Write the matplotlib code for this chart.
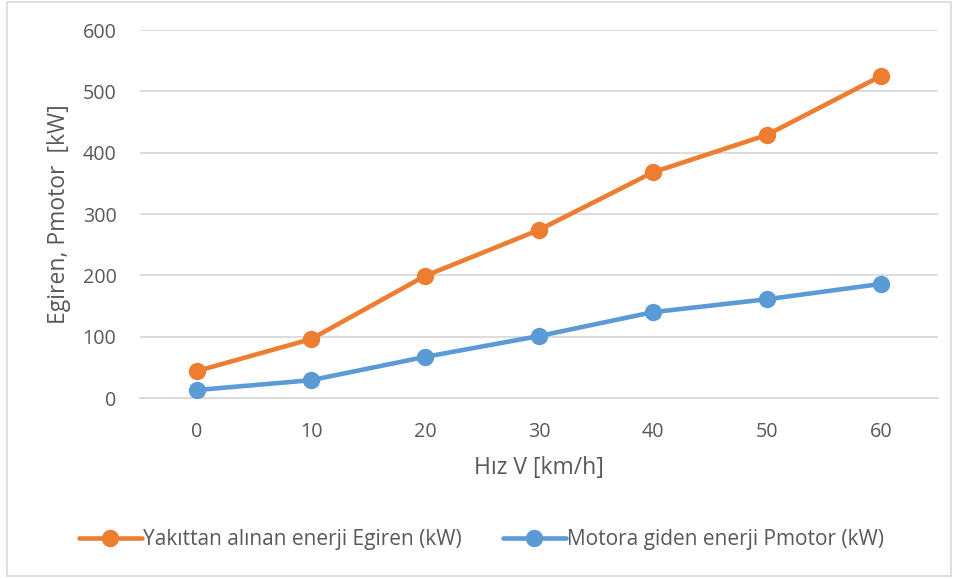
import matplotlib
matplotlib.use('Agg')
import matplotlib.pyplot as plt
from matplotlib.patches import Rectangle

# chart data
hiz = [0, 10, 20, 30, 40, 50, 60]
e_giren = [44, 96, 199, 274, 368, 429, 525]
p_motor = [13, 29, 67, 101, 140, 161, 186]
y_ticks = [0, 100, 200, 300, 400, 500, 600]

ORANGE = '#ED7D31'
BLUE = '#5B9BD5'
TEXT = '#595959'
GRID = '#D9D9D9'

plt.rcParams['font.family'] = ['Open Sans', 'DejaVu Sans']

W, H = 963, 579
fig = plt.figure(figsize=(W / 100, H / 100), dpi=100)

# outer chart frame
fig.patches.append(Rectangle((7 / W, 3 / H), 944 / W, 574 / H, transform=fig.transFigure,
                             fill=False, edgecolor='#D9D9D9', linewidth=1.2))

ax = fig.add_axes([140 / W, 1 - 398 / H, 798 / W, 368 / H])
pos = list(range(len(hiz)))

ax.plot(pos, e_giren, color=ORANGE, lw=3.3, marker='o', ms=11.5,
        label='Yakıttan alınan enerji Egiren (kW)', zorder=3, solid_capstyle='round')
ax.plot(pos, p_motor, color=BLUE, lw=3.3, marker='o', ms=11.5,
        label='Motora giden enerji Pmotor (kW)', zorder=3, solid_capstyle='round')

ax.set_xlim(-0.5, len(hiz) - 0.5)
ax.set_ylim(0, 600)
ax.set_xticks(pos)
ax.set_xticklabels([str(v) for v in hiz])
ax.set_yticks(y_ticks)
ax.grid(axis='y', color=GRID, lw=1.3)
ax.set_axisbelow(True)
for s in ['top', 'right', 'left']:
    ax.spines[s].set_visible(False)
ax.spines['bottom'].set_color(GRID)
ax.spines['bottom'].set_linewidth(1.3)
ax.tick_params(length=0, labelsize=14.2, labelcolor=TEXT)
ax.tick_params(axis='y', pad=17)
ax.tick_params(axis='x', pad=17)

ax.set_xlabel('Hız V [km/h]', fontsize=16.5, color=TEXT, labelpad=10)
ax.set_ylabel('Egiren, Pmotor  [kW]', fontsize=16.5, color=TEXT, labelpad=8)

fig.legend(loc='center', bbox_to_anchor=(0.5, 1 - 540 / H), ncol=2, frameon=False,
           fontsize=15, labelcolor=TEXT, handlelength=3.0, handletextpad=0.05,
           columnspacing=2.0)

fig.savefig('out.png', dpi=100)
